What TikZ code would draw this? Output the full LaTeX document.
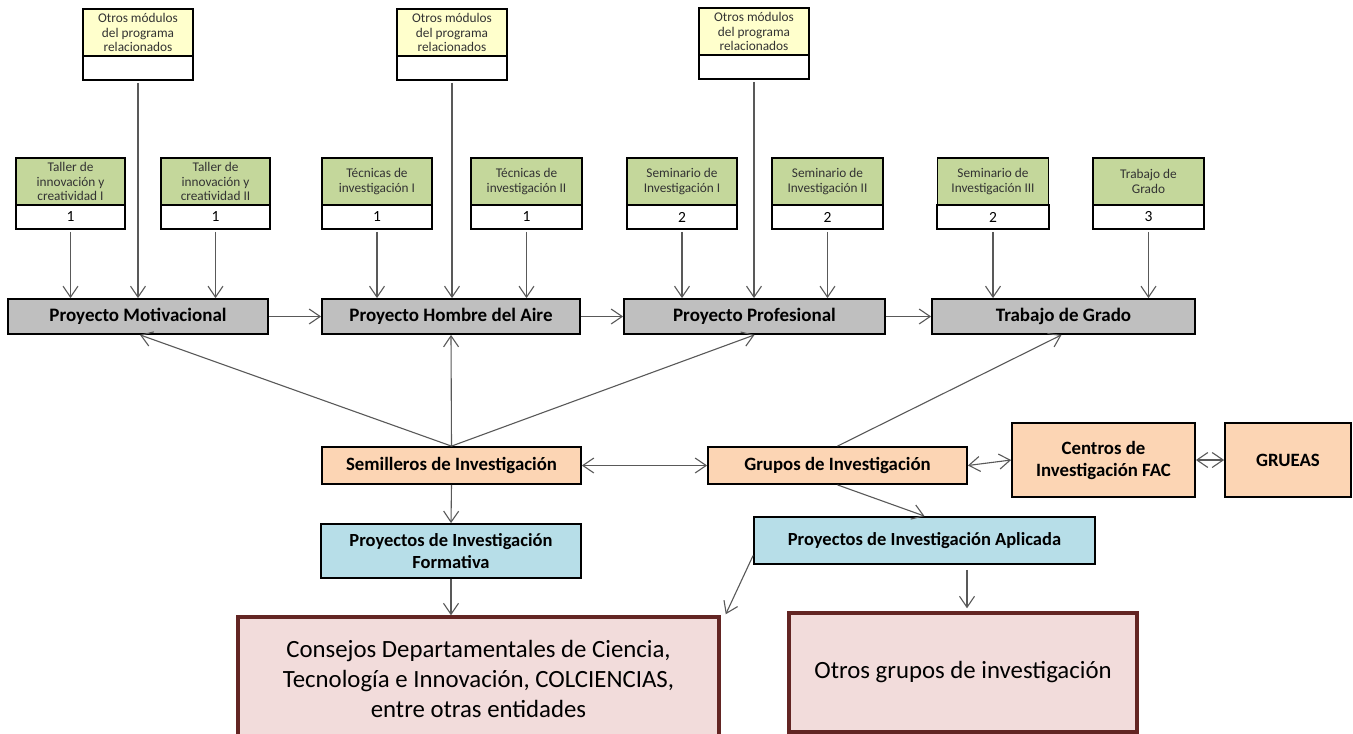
\documentclass[tikz,border=0pt]{standalone}
\usepackage{fontspec}
\setmainfont{Carlito}
\usetikzlibrary{arrows.meta,calc}
\definecolor{yel}{HTML}{FFFFCC}
\definecolor{grn}{HTML}{C4D79B}
\definecolor{gry}{HTML}{BFBFBF}
\definecolor{org}{HTML}{FCD5B4}
\definecolor{blu}{HTML}{B7DEE8}
\definecolor{pnk}{HTML}{F2DCDB}
\definecolor{dred}{HTML}{632523}
\definecolor{arr}{HTML}{595959}
\definecolor{txt}{HTML}{333333}
\begin{document}
\begin{tikzpicture}[x=1pt,y=-1pt,
  box/.style={draw=black, line width=1.8pt, inner sep=0pt, align=center},
  ytop/.style={box, fill=yel, minimum width=110pt, minimum height=47pt, text=txt, font=\fontsize{13.3}{14.8}\selectfont},
  gtop/.style={box, fill=grn, minimum height=47pt, text=txt, font=\fontsize{13.3}{14.8}\selectfont},
  wbot/.style={box, fill=white, minimum height=24pt, font=\fontsize{15.5}{17}\selectfont},
  graybox/.style={box, fill=gry, minimum height=35pt, font=\bfseries\fontsize{19}{22}\selectfont},
  orgbox/.style={box, fill=org, font=\bfseries\fontsize{18.8}{22}\selectfont},
  blubox/.style={box, fill=blu, font=\bfseries\fontsize{18.5}{22}\selectfont},
  pnkbox/.style={box, draw=dred, line width=3.5pt, fill=pnk, font=\fontsize{24.8}{30}\selectfont},
  conn/.style={draw=arr, line width=1.1pt, -{Straight Barb[length=11pt,width=15pt]}},
  dconn/.style={draw=arr, line width=1.1pt, {Straight Barb[length=11pt,width=15pt]}-{Straight Barb[length=11pt,width=15pt]}},
  line/.style={draw=arr, line width=1.1pt}
]
\clip (0,0) rectangle (1353,734);
\fill[white] (0,0) rectangle (1353,734);

% Otros modulos
\node[ytop] (o1) at (138,32.5) {Otros módulos\\del programa\\relacionados};
\node[wbot, minimum width=110pt] (o1n) at (138,68) {};
\node[ytop] (o2) at (452,32.5) {Otros módulos\\del programa\\relacionados};
\node[wbot, minimum width=110pt] (o2n) at (452,68) {};
\node[ytop] (o3) at (754,31.5) {Otros módulos\\del programa\\relacionados};
\node[wbot, minimum width=110pt] (o3n) at (754,67) {};

% green modules
\node[gtop, minimum width=109pt] (g1) at (70.5,181.5) {Taller de\\innovación y\\creatividad I};
\node[wbot, minimum width=109pt] (g1n) at (70.5,217) {1};
\node[gtop, minimum width=109pt] (g2) at (215.5,181.5) {Taller de\\innovación y\\creatividad II};
\node[wbot, minimum width=109pt] (g2n) at (215.5,217) {1};
\node[gtop, minimum width=110pt] (g3) at (377,181.5) {Técnicas de\\investigación I};
\node[wbot, minimum width=110pt] (g3n) at (377,217) {1};
\node[gtop, minimum width=111pt] (g4) at (526.5,181.5) {Técnicas de\\investigación II};
\node[wbot, minimum width=111pt] (g4n) at (526.5,217) {1};
\node[gtop, minimum width=110pt] (g5) at (682,181.5) {Seminario de\\Investigación I};
\node[wbot, minimum width=110pt] (g5n) at (682,217) {2};
\node[gtop, minimum width=111pt] (g6) at (827.5,181.5) {Seminario de\\Investigación II};
\node[wbot, minimum width=111pt] (g6n) at (827.5,217) {2};
\node[gtop, minimum width=111pt] (g7) at (993,181.5) {Seminario de\\Investigación III};
\node[wbot, minimum width=112pt] (g7n) at (993,217) {2};
\node[gtop, minimum width=111pt] (g8) at (1148.5,181.5) {Trabajo de\\Grado};
\node[wbot, minimum width=111pt] (g8n) at (1148.5,217) {3};

% gray projects
\node[graybox, minimum width=260pt] (p1) at (138,316.5) {Proyecto Motivacional};
\node[graybox, minimum width=258pt] (p2) at (451,316.5) {Proyecto Hombre del Aire};
\node[graybox, minimum width=261pt] (p3) at (754.5,316.5) {Proyecto Profesional};
\node[graybox, minimum width=263pt] (p4) at (1063.5,316.5) {Trabajo de Grado};

% orange
\node[orgbox, minimum width=259pt, minimum height=37pt] (sem) at (451.5,465.5) {Semilleros de Investigación};
\node[orgbox, minimum width=259pt, minimum height=37pt] (gru) at (837.5,465.5) {Grupos de Investigación};
\node[orgbox, minimum width=183pt, minimum height=74pt] (cen) at (1103.5,460) {Centros de\\Investigación FAC};
\node[orgbox, minimum width=126pt, minimum height=74pt] (grue) at (1288,460) {GRUEAS};

% blue
\node[blubox, minimum width=260pt, minimum height=54pt] (form) at (451,551) {Proyectos de Investigación\\Formativa};
\node[blubox, minimum width=341pt, minimum height=47pt] (apl) at (924.5,540.5) {Proyectos de Investigación Aplicada};

% pink
\node[pnkbox, minimum width=481pt, minimum height=123pt] (cons) at (478.5,678.5) {Consejos Departamentales de Ciencia,\\Tecnología e Innovación, COLCIENCIAS,\\entre otras entidades};
\node[pnkbox, minimum width=348pt, minimum height=119pt] (oth) at (963,672.5) {Otros grupos de investigación};

% arrows from modules
\foreach \m/\p in {g1n/p1, o1n/p1, g2n/p1, g3n/p2, o2n/p2, g4n/p2, g5n/p3, o3n/p3, g6n/p3, g7n/p4, g8n/p4}{
  \draw[conn] ([yshift=-2pt]\m.south) -- (\m.south |- \p.north);
}

% between projects
\draw[conn] (p1.east) -- (p2.west);
\draw[conn] (p2.east) -- (p3.west);
\draw[conn] (p3.east) -- (p4.west);

% semilleros
\draw[conn] (sem.north) -- ([xshift=2pt]p1.south);
\draw[conn] (sem.north) -- (p2.south);
\draw[conn] (sem.north) -- (p3.south);
\draw[conn] (sem.south) -- (form.north);
\draw[conn] (form.south) -- (form.south |- cons.north);
\draw[dconn] (sem.east) -- (gru.west);

% grupos
\draw[conn] (gru.north) -- ([xshift=-2pt]p4.south);
\draw[conn] (gru.south) -- (apl.north);
\draw[dconn] (gru.east) -- (cen.west);
\draw[dconn] (cen.east) -- (grue.west);

% aplicada
\coordinate (aplout) at ([xshift=5pt,yshift=1pt]cons.north east);
\draw[conn] ([yshift=-15pt]apl.west) -- (aplout);
\draw[conn] ([xshift=4pt,yshift=-5pt]oth.north |- apl.south) -- ([xshift=4pt,yshift=3pt]oth.north);
\end{tikzpicture}
\end{document}
